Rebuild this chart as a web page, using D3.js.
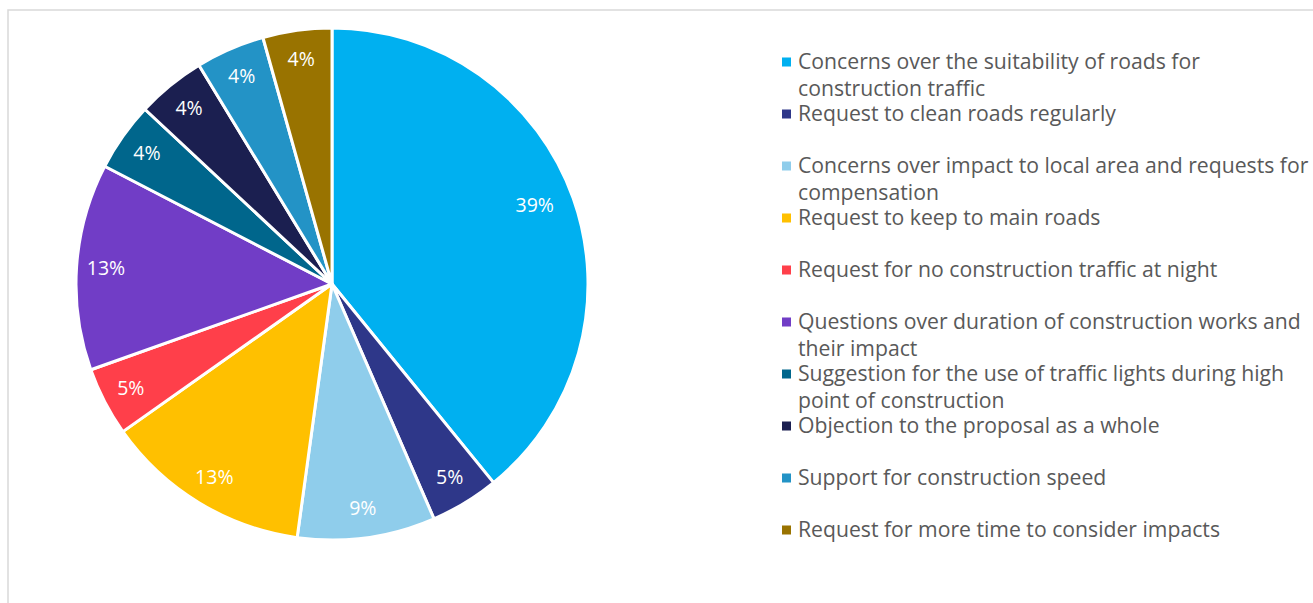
<!DOCTYPE html>
<html>
<head>
<meta charset="utf-8">
<title>Consultation responses</title>
<script src="https://cdnjs.cloudflare.com/ajax/libs/d3/7.8.5/d3.min.js"></script>
<style>
  body { margin: 0; background: #fff; }
  text { font-family: "Open Sans", Lato, sans-serif; }
</style>
</head>
<body>
<div id="chart"></div>
<script>
var categories = [
  "Concerns over the suitability of roads for construction traffic",
  "Request to clean roads regularly",
  "Concerns over impact to local area and requests for compensation",
  "Request to keep to main roads",
  "Request for no construction traffic at night",
  "Questions over duration of construction works and their impact",
  "Suggestion for the use of traffic lights during high point of construction",
  "Objection to the proposal as a whole",
  "Support for construction speed",
  "Request for more time to consider impacts"
];
var responses = [9, 1, 2, 3, 1, 3, 1, 1, 1, 1];
// percentage labels as printed on the slices
var pctLabels = ["39%", "5%", "9%", "13%", "5%", "13%", "4%", "4%", "4%", "4%"];
var colours = ["#00b0f0", "#2e3789", "#8fcdeb", "#ffc000", "#ff3f4a",
               "#713dc6", "#00668c", "#1b1f50", "#2393c6", "#997300"];

var W = 1313, H = 603;
var cx = 332, cy = 284, radius = 256;

var svg = d3.select("#chart").append("svg")
  .attr("width", W).attr("height", H);

// chart frame
svg.append("rect")
  .attr("x", 8).attr("y", 10)
  .attr("width", W + 20).attr("height", H)
  .attr("fill", "none")
  .attr("stroke", "#d9d9d9")
  .attr("stroke-width", 1.5);

var pie = d3.pie().sort(null).value(function (d) { return d; });
var arcs = pie(responses);
var arc = d3.arc().innerRadius(0).outerRadius(radius);
var labelArc = d3.arc().innerRadius(radius * 0.885).outerRadius(radius * 0.885);

var g = svg.append("g").attr("transform", "translate(" + cx + "," + cy + ")");

g.selectAll("path.slice")
  .data(arcs)
  .enter()
  .append("path")
  .attr("class", "slice")
  .attr("d", arc)
  .attr("fill", function (d, i) { return colours[i]; })
  .attr("stroke", "#fff")
  .attr("stroke-width", 3)
  .attr("stroke-linejoin", "round");

g.selectAll("text.lbl")
  .data(arcs)
  .enter()
  .append("text")
  .attr("class", "lbl")
  .attr("transform", function (d, i) {
    var c = labelArc.centroid(d);
    if (i == 0) c = d3.arc().innerRadius(radius * 0.85).outerRadius(radius * 0.85)
      .startAngle(d.startAngle).endAngle(d.endAngle - 0.06).centroid();
    return "translate(" + c[0] + "," + c[1] + ")";
  })
  .attr("text-anchor", "middle")
  .attr("dy", "0.35em")
  .attr("fill", "#fff")
  .attr("font-size", 19.5)
  .text(function (d, i) { return pctLabels[i]; });

// legend
var legX = 782, legY = 62, legStep = 52, lineH = 26.5, maxW = 520;
var legend = svg.append("g");

categories.forEach(function (name, i) {
  var y = legY + i * legStep;
  legend.append("rect")
    .attr("x", legX).attr("y", y - 4.5)
    .attr("width", 9).attr("height", 9)
    .attr("fill", colours[i]);
  var t = legend.append("text")
    .attr("fill", "#595959")
    .attr("font-size", 21.2);
  var words = name.split(" "), line = [], lineNo = 0;
  var ts = t.append("tspan").attr("x", legX + 16).attr("y", y).attr("dy", "0.35em");
  words.forEach(function (w) {
    line.push(w);
    ts.text(line.join(" "));
    if (ts.node().getComputedTextLength() > maxW && line.length > 1) {
      line.pop();
      ts.text(line.join(" "));
      line = [w];
      lineNo++;
      ts = t.append("tspan").attr("x", legX + 16).attr("y", y + lineNo * lineH)
        .attr("dy", "0.35em").text(w);
    }
  });
});
</script>
</body>
</html>
